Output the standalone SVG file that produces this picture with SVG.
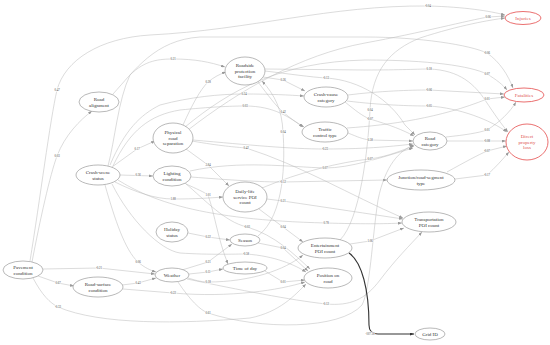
<svg xmlns="http://www.w3.org/2000/svg" width="550" height="345" viewBox="0 0 550 345">
<style>
.e{fill:none;stroke:#b8b8b8;stroke-width:0.5;marker-end:url(#a)}
.t{fill:none;stroke:#333;stroke-width:1.1;marker-end:url(#b)}
.l{font-family:"Liberation Serif",serif;font-size:3px;fill:#444;text-anchor:middle;stroke:#fff;stroke-width:1.2px;paint-order:stroke;dominant-baseline:middle}
.n ellipse{fill:#fff;stroke:#8a8a8a;stroke-width:0.6}
.n text{font-family:"Liberation Serif",serif;font-size:5px;fill:#333;text-anchor:middle}
.r ellipse{fill:#fff;stroke:#e86060;stroke-width:0.9}
.r text{font-family:"Liberation Serif",serif;font-size:5px;fill:#e05050;text-anchor:middle}
</style>
<defs>
<marker id="a" markerUnits="userSpaceOnUse" markerWidth="4" markerHeight="3" refX="4" refY="1.5" orient="auto"><path d="M0,0 L4,1.5 L0,3 z" fill="#999"/></marker>
<marker id="b" markerUnits="userSpaceOnUse" markerWidth="4" markerHeight="3" refX="4" refY="1.5" orient="auto"><path d="M0,0 L4,1.5 L0,3 z" fill="#333"/></marker>
</defs>
<rect width="550" height="345" fill="#fff"/>
<g id="connectors">
<path class="e" d="M30,261 C40,200 50,120 57,90 C65,60 100,38 150,35 C250,30 330,5 428,6 C465,7 490,11 505,15"/>
<path class="e" d="M32,262 C40,220 50,175 57,156 C65,135 80,120 92,111"/>
<path class="e" d="M38,276 L58,283 L74,286"/>
<path class="e" d="M43,269 L99,268 L155,274"/>
<path class="e" d="M33,278 C42,295 50,303 58,307 C100,325 180,324 250,318 C280,312 295,295 306,284"/>
<path class="e" d="M108,166 C115,140 118,100 130,75 C145,60 160,59 173,59 C195,59 210,62 225,67"/>
<path class="e" d="M112,167 L137,149 L155,141"/>
<path class="e" d="M120,175 L153,176"/>
<path class="e" d="M115,182 C135,192 155,199 173,199 C195,199 210,198 223,197"/>
<path class="e" d="M105,185 C115,220 125,250 138,262 C145,268 150,270 156,272"/>
<path class="e" d="M118,180 C150,200 200,220 326,223 C360,224 385,224 402,223"/>
<path class="e" d="M110,165 C125,130 140,115 160,105 C190,97 220,94 244,94 C270,94 290,95 304,96"/>
<path class="e" d="M113,94 C135,70 155,40 200,37 L365,37 C420,37 470,45 487,53 C500,62 508,75 513,88"/>
<path class="e" d="M185,127 C230,90 280,62 365,60 C430,60 470,66 487,74 C497,80 503,85 507,90"/>
<path class="e" d="M188,130 C240,90 300,55 365,43 C420,33 470,20 488,17 L505,16"/>
<path class="e" d="M265,69 L365,70 C400,70 420,69 429,69 C460,70 475,85 485,100 C495,115 502,125 508,132"/>
<path class="e" d="M348,95 C380,91 410,90 429,90 L504,94"/>
<path class="e" d="M347,101 C380,105 410,106 429,106 C460,108 490,120 507,132"/>
<path class="e" d="M263,77 L283,80 L305,91"/>
<path class="e" d="M258,82 C268,95 275,105 283,112 C290,118 297,123 304,127"/>
<path class="e" d="M265,71 C290,74 310,77 326,78 C360,80 390,100 405,125 L415,135"/>
<path class="e" d="M183,125 C192,105 200,90 208,82 C214,77 220,74 226,72"/>
<path class="e" d="M186,149 L208,165 L229,186"/>
<path class="e" d="M192,141 C220,146 235,147 246,148 C300,165 350,195 403,218"/>
<path class="e" d="M193,140 C250,145 290,149 325,149 C370,149 395,146 413,144"/>
<path class="e" d="M186,184 C197,189 204,192 208,195 C215,215 218,240 228,264"/>
<path class="e" d="M191,177 C230,180 260,182 283,182 L387,180"/>
<path class="e" d="M190,171 C240,160 290,167 325,168 C350,168 380,158 413,148"/>
<path class="e" d="M262,188 C300,172 340,162 370,159 C390,156 402,150 414,146"/>
<path class="e" d="M267,199 L283,201 C330,208 370,214 403,219"/>
<path class="e" d="M259,209 L283,227 L303,242"/>
<path class="e" d="M188,233 L208,237 L230,240"/>
<path class="e" d="M112,184 C130,220 160,250 180,253 C210,255 235,254 246,254 C275,256 295,265 306,272"/>
<path class="e" d="M185,183 C205,200 225,222 247,227 C275,235 295,255 310,269"/>
<path class="e" d="M182,270 L208,262 L232,244"/>
<path class="e" d="M189,274 L208,272 L223,269"/>
<path class="e" d="M188,278 C195,280 200,282 208,282 C250,282 285,270 303,255"/>
<path class="e" d="M178,282 C190,300 200,310 208,313 C260,330 340,330 362,305 C370,290 372,240 378,200 C385,165 400,150 414,145"/>
<path class="e" d="M187,279 C240,290 290,300 326,304 C350,306 365,300 380,280 C395,260 410,245 422,232"/>
<path class="e" d="M122,285 L138,283 L156,278"/>
<path class="e" d="M123,289 L173,293 C230,298 280,290 305,282"/>
<path class="e" d="M258,236 C285,215 285,160 283,132 C282,110 275,95 262,81"/>
<path class="e" d="M258,243 L283,248 L308,271"/>
<path class="e" d="M265,271 L283,282 L305,280"/>
<path class="e" d="M350,244 L370,241 L404,228"/>
<path class="t" d="M349,253 C362,262 369,290 369,325 Q369,334 378,334 L414,334"/>
<path class="e" d="M340,240 C360,220 368,150 370,110 C372,70 390,50 420,38 C460,25 490,20 505,18"/>
<path class="e" d="M345,102 C355,110 362,116 370,119 C390,125 403,130 414,136"/>
<path class="e" d="M348,133 C358,137 362,139 370,140 L413,141"/>
<path class="e" d="M446,137 C465,135 478,133 487,130 C500,122 510,112 516,102"/>
<path class="e" d="M447,141 L506,141"/>
<path class="e" d="M447,172 C465,162 478,155 487,151 L507,146"/>
<path class="e" d="M455,179 L487,175 C495,168 502,160 509,152"/>
<path class="e" d="M347,128 C390,125 440,118 487,99 L505,97"/>
<path class="e" d="M113,166 C130,130 150,115 180,110 C210,107 230,106 245,106 C275,106 290,118 303,127"/>
<text class="l" x="57" y="90">0.47</text>
<text class="l" x="428" y="6">-0.04</text>
<text class="l" x="57" y="156">0.03</text>
<text class="l" x="58" y="283">0.67</text>
<text class="l" x="99" y="268">-0.21</text>
<text class="l" x="58" y="307">-0.33</text>
<text class="l" x="173" y="59">0.21</text>
<text class="l" x="137" y="149">0.17</text>
<text class="l" x="138" y="175">0.36</text>
<text class="l" x="173" y="199">1.88</text>
<text class="l" x="138" y="262">0.06</text>
<text class="l" x="326" y="223">0.78</text>
<text class="l" x="244" y="94">0.24</text>
<text class="l" x="487" y="53">-0.06</text>
<text class="l" x="487" y="74">0.07</text>
<text class="l" x="488" y="17">0.06</text>
<text class="l" x="429" y="69">0.18</text>
<text class="l" x="429" y="90">-0.06</text>
<text class="l" x="429" y="106">-0.05</text>
<text class="l" x="283" y="80">0.26</text>
<text class="l" x="283" y="112">0.42</text>
<text class="l" x="326" y="78">-0.13</text>
<text class="l" x="208" y="82">0.28</text>
<text class="l" x="208" y="165">3.84</text>
<text class="l" x="246" y="148">0.42</text>
<text class="l" x="325" y="149">-0.23</text>
<text class="l" x="208" y="195">1.01</text>
<text class="l" x="283" y="182">-0.12</text>
<text class="l" x="325" y="168">0.07</text>
<text class="l" x="370" y="159">0.07</text>
<text class="l" x="283" y="201">0.21</text>
<text class="l" x="283" y="227">0.04</text>
<text class="l" x="208" y="237">0.22</text>
<text class="l" x="246" y="254">-0.58</text>
<text class="l" x="247" y="227">-0.03</text>
<text class="l" x="208" y="262">0.21</text>
<text class="l" x="208" y="272">0.11</text>
<text class="l" x="208" y="282">0.18</text>
<text class="l" x="208" y="313">0.61</text>
<text class="l" x="326" y="304">-0.12</text>
<text class="l" x="138" y="283">0.43</text>
<text class="l" x="173" y="293">-0.22</text>
<text class="l" x="283" y="132">0.04</text>
<text class="l" x="283" y="248">0.04</text>
<text class="l" x="283" y="282">0.01</text>
<text class="l" x="370" y="241">1.06</text>
<text class="l" x="370" y="334">-107.18</text>
<text class="l" x="370" y="110">0.04</text>
<text class="l" x="370" y="119">-0.07</text>
<text class="l" x="370" y="140">0.58</text>
<text class="l" x="487" y="130">0.01</text>
<text class="l" x="487" y="141">-0.08</text>
<text class="l" x="487" y="151">-0.07</text>
<text class="l" x="487" y="175">-0.17</text>
<text class="l" x="487" y="99">0.01</text>
<text class="l" x="245" y="106">0.03</text>
</g>
<g id="pavement" class="n"><ellipse cx="23" cy="270" rx="20" ry="9"/><text x="23" y="269">Pavement</text><text x="23" y="274.5">condition</text></g>
<g id="road-alignment" class="n"><ellipse cx="99" cy="102" rx="20" ry="10"/><text x="99" y="101">Road</text><text x="99" y="106.5">alignment</text></g>
<g id="crash-scene" class="n"><ellipse cx="98" cy="175" rx="22" ry="10"/><text x="98" y="174">Crash-scene</text><text x="98" y="179.5">status</text></g>
<g id="road-surface" class="n"><ellipse cx="98" cy="287" rx="25" ry="10"/><text x="98" y="286">Road-surface</text><text x="98" y="291.5">condition</text></g>
<g id="physical-sep" class="n"><ellipse cx="173" cy="138" rx="20" ry="15"/><text x="173" y="134">Physical</text><text x="173" y="139.5">road</text><text x="173" y="145">separation</text></g>
<g id="lighting" class="n"><ellipse cx="172" cy="176" rx="19" ry="10"/><text x="172" y="175">Lighting</text><text x="172" y="180.5">condition</text></g>
<g id="holiday" class="n"><ellipse cx="172" cy="232" rx="16" ry="10"/><text x="172" y="231">Holiday</text><text x="172" y="236.5">status</text></g>
<g id="weather" class="n"><ellipse cx="172" cy="275" rx="17" ry="7"/><text x="172" y="276.8">Weather</text></g>
<g id="roadside" class="n"><ellipse cx="245" cy="71" rx="20" ry="14"/><text x="245" y="67">Roadside</text><text x="245" y="72.5">protection</text><text x="245" y="78">facility</text></g>
<g id="daily-life" class="n"><ellipse cx="245" cy="197" rx="22" ry="15"/><text x="245" y="193">Daily-life</text><text x="245" y="198.5">service POI</text><text x="245" y="204">count</text></g>
<g id="season" class="n"><ellipse cx="245" cy="240" rx="15" ry="6"/><text x="245" y="241.8">Season</text></g>
<g id="time-of-day" class="n"><ellipse cx="245" cy="268" rx="22" ry="6"/><text x="245" y="269.8">Time of day</text></g>
<g id="crash-cause" class="n"><ellipse cx="326" cy="97" rx="22" ry="10"/><text x="326" y="96">Crash-cause</text><text x="326" y="101.5">category</text></g>
<g id="traffic-control" class="n"><ellipse cx="325" cy="132" rx="23" ry="10"/><text x="325" y="131">Traffic</text><text x="325" y="136.5">control type</text></g>
<g id="entertainment" class="n"><ellipse cx="325" cy="248" rx="27" ry="10"/><text x="325" y="247">Entertainment</text><text x="325" y="252.5">POI count</text></g>
<g id="position-on-road" class="n"><ellipse cx="328" cy="278" rx="24" ry="10"/><text x="328" y="277">Position on</text><text x="328" y="282.5">road</text></g>
<g id="road-category" class="n"><ellipse cx="430" cy="141" rx="17" ry="9"/><text x="430" y="140">Road</text><text x="430" y="145.5">category</text></g>
<g id="junction" class="n"><ellipse cx="421" cy="180" rx="34" ry="10"/><text x="421" y="179">Junction/road-segment</text><text x="421" y="184.5">type</text></g>
<g id="transportation" class="n"><ellipse cx="429" cy="222" rx="27" ry="10"/><text x="429" y="221">Transportation</text><text x="429" y="226.5">POI count</text></g>
<g id="grid-id" class="n"><ellipse cx="430" cy="334" rx="15" ry="6"/><text x="430" y="335.8">Grid ID</text></g>
<g id="injuries" class="r"><ellipse cx="523" cy="18" rx="18" ry="6.5"/><text x="523" y="19.8">Injuries</text></g>
<g id="fatalities" class="r"><ellipse cx="524" cy="95" rx="20" ry="7"/><text x="524" y="96.8">Fatalities</text></g>
<g id="direct-loss" class="r"><ellipse cx="527" cy="142" rx="21" ry="18"/><text x="527" y="138">Direct</text><text x="527" y="143.5">property</text><text x="527" y="149">loss</text></g>
</svg>
